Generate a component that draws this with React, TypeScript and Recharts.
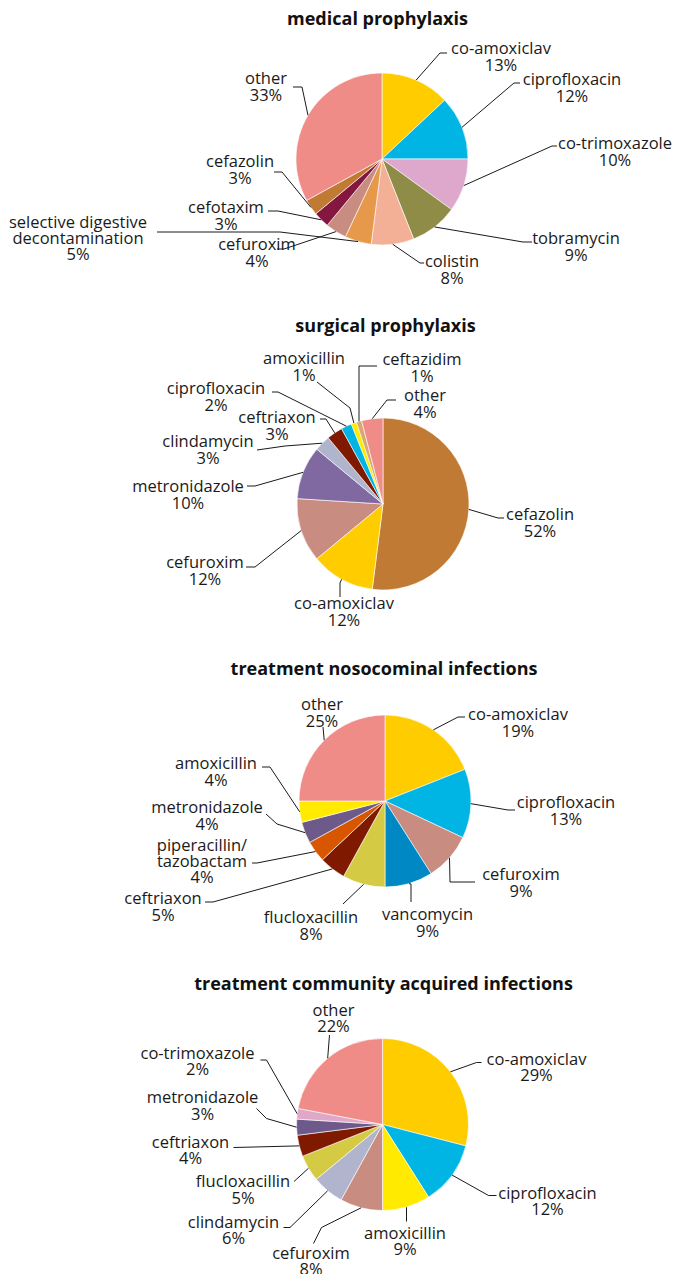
import React from "react";
import { PieChart, Pie, Cell } from "recharts";

// ---------- data ----------
const medNames = ["co-amoxiclav", "ciprofloxacin", "co-trimoxazole", "tobramycin", "colistin", "selective digestive\ndecontamination", "cefuroxim", "cefotaxim", "cefazolin", "other"];
const medValues = [13, 12, 10, 9, 8, 5, 4, 3, 3, 33];
const medColors = ["#FFCC00", "#00B4E4", "#DDA8CC", "#8F8C48", "#F4B096", "#E6994A", "#C98C80", "#84163F", "#C07A33", "#F08C88"];

const surNames = ["cefazolin", "co-amoxiclav", "cefuroxim", "metronidazole", "clindamycin", "ceftriaxon", "ciprofloxacin", "amoxicillin", "ceftazidim", "other"];
const surValues = [52, 12, 12, 10, 3, 3, 2, 1, 1, 4];
const surColors = ["#C07A33", "#FFCC00", "#C98C80", "#8068A0", "#B0B4CC", "#7F1A00", "#00B4E4", "#FFEA00", "#D9A86C", "#F08C88"];

const nosNames = ["co-amoxiclav", "ciprofloxacin", "cefuroxim", "vancomycin", "flucloxacillin", "ceftriaxon", "piperacillin/\ntazobactam", "metronidazole", "amoxicillin", "other"];
const nosValues = [19, 13, 9, 9, 8, 5, 4, 4, 4, 25];
const nosColors = ["#FFCC00", "#00B4E4", "#C98C80", "#0088C4", "#D4CA44", "#7F1A00", "#D95600", "#6E5A8A", "#FFEA00", "#F08C88"];

const comNames = ["co-amoxiclav", "ciprofloxacin", "amoxicillin", "cefuroxim", "clindamycin", "flucloxacillin", "ceftriaxon", "metronidazole", "co-trimoxazole", "other"];
const comValues = [29, 12, 9, 8, 6, 5, 4, 3, 2, 22];
const comColors = ["#FFCC00", "#00B4E4", "#FFEA00", "#C98C80", "#B0B4CC", "#D4CA44", "#7F1A00", "#6E5A8A", "#E0A8C8", "#F08C88"];

const titles = ["medical prophylaxis", "surgical prophylaxis", "treatment nosocominal infections", "treatment community acquired infections"];

// ---------- label layout (offsets from pie centre) ----------
type LL = { t: [number, number]; e: [number, number]; s: [number, number] };
const medLayout: LL[] = [
  { t: [119, -112], e: [58, -106], s: [65, -106] },
  { t: [190, -81], e: [132, -76], s: [138, -76] },
  { t: [233, -17], e: [170, -13], s: [175, -13] },
  { t: [194, 78], e: [141, 83], s: [150, 83] },
  { t: [70, 101], e: [38, 104], s: [42, 104] },
  { t: [-304, 62], e: [-102, 73], s: [-225, 73] },
  { t: [-125, 84], e: [-98, 90], s: [-105, 90] },
  { t: [-156, 47], e: [-104, 52], s: [-114, 52] },
  { t: [-142, 1], e: [-100, 13], s: [-108, 13] },
  { t: [-116, -82], e: [-80, -72], s: [-89, -72] },
];
const surLayout: LL[] = [
  { t: [157, 9], e: [115, 14], s: [121, 14] },
  { t: [-39, 98], e: [-43, 79], s: [-43, 93] },
  { t: [-178, 57], e: [-128, 63], s: [-137, 63] },
  { t: [-195, -19], e: [-128, -18], s: [-136, -18] },
  { t: [-175, -64], e: [-98, -58], s: [-126, -54] },
  { t: [-106, -88], e: [-57, -85], s: [-63, -85] },
  { t: [-167, -117], e: [-105, -112], s: [-111, -112] },
  { t: [-79, -147], e: [-33, -96], s: [-66, -122] },
  { t: [39, -146], e: [-24, -138], s: [-6, -138] },
  { t: [42, -110], e: [4, -104], s: [13, -104] },
];
const nosLayout: LL[] = [
  { t: [133, -88], e: [73, -84], s: [80, -84] },
  { t: [181, 0], e: [123, 9], s: [130, 9] },
  { t: [136, 72], e: [65, 81], s: [90, 81] },
  { t: [42.5, 112], e: [26, 83], s: [26, 101] },
  { t: [-74, 115], e: [-42, 103], s: [-42, 103] },
  { t: [-222, 96], e: [-172, 101], s: [-180, 101] },
  { t: [-183, 43], e: [-128, 62], s: [-133, 62] },
  { t: [-178, 5], e: [-108, 23], s: [-119, 13] },
  { t: [-169, -39], e: [-115, -34], s: [-123, -34] },
  { t: [-63, -98], e: [-62, -74], s: [-62, -74] },
];
const comLayout: LL[] = [
  { t: [154, -67], e: [94, -62], s: [99, -62] },
  { t: [165, 67], e: [106, 71], s: [114, 71] },
  { t: [22.5, 107], e: [24, 83], s: [24, 97] },
  { t: [-71.5, 127], e: [-61, 103], s: [-69, 119] },
  { t: [-149, 96], e: [-92.5, 103], s: [-99, 103] },
  { t: [-139.5, 55.5], e: [-88.5, 57], s: [-88.5, 57] },
  { t: [-192, 16], e: [-149, 23], s: [-149, 23] },
  { t: [-180, -28.5], e: [-116, -6], s: [-126, -16] },
  { t: [-185, -73], e: [-116, -64.5], s: [-122, -64.5] },
  { t: [-49, -116], e: [-53, -89.5], s: [-53, -89.5] },
];

const FONT = "'Open Sans', 'Noto Sans', sans-serif";
const LINE = 16.5;
const RADIUS = 86;

const makeLabel = (layout: LL[]) => (props: any) => {
  const { cx, cy, midAngle, outerRadius, index } = props;
  const name = props.payload?.name ?? props.name;
  const value = props.payload?.value ?? props.value;
  const L = layout[index];
  const rad = Math.PI / 180;
  const x0 = cx + outerRadius * Math.cos(-midAngle * rad);
  const y0 = cy + outerRadius * Math.sin(-midAngle * rad);
  const pts = [
    [x0, y0],
    [cx + L.e[0], cy + L.e[1]],
    [cx + L.s[0], cy + L.s[1]],
  ];
  const lines = [...String(name).split("\n"), `${value}%`];
  const step = lines.length > 2 ? 16 : LINE;
  const tx = cx + L.t[0];
  return (
    <g key={`lbl-${index}`}>
      <polyline points={pts.map((p) => p.join(",")).join(" ")} fill="none" stroke="#1a1a1a" strokeWidth={1} />
      <text
        x={tx}
        y={cy + L.t[1]}
        textAnchor="middle"
        dominantBaseline="central"
        fontFamily={FONT}
        fontSize={16.5}
        fill="#1a1a1a"
      >
        {lines.map((ln, i) => (
          <tspan key={i} x={tx} dy={i === 0 ? 0 : step}>
            {ln}
          </tspan>
        ))}
      </text>
    </g>
  );
};

const build = (names: string[], values: number[]) => names.map((n, i) => ({ name: n, value: values[i] }));

const panels = [
  { data: build(medNames, medValues), colors: medColors, layout: medLayout, cx: 382, cy: 159, tx: 377.5, ty: 18 },
  { data: build(surNames, surValues), colors: surColors, layout: surLayout, cx: 383, cy: 504, tx: 385.5, ty: 325 },
  { data: build(nosNames, nosValues), colors: nosColors, layout: nosLayout, cx: 385, cy: 801, tx: 384, ty: 668 },
  { data: build(comNames, comValues), colors: comColors, layout: comLayout, cx: 382.5, cy: 1124.5, tx: 383.5, ty: 983 },
];

export default function App() {
  return (
    <div style={{ position: "relative", width: 676, height: 1274, background: "#fff" }}>
      <style>{`body{margin:0;background:#fff}`}</style>
      <PieChart width={676} height={1274} margin={{ top: 0, right: 0, bottom: 0, left: 0 }}>
        {panels.map((p, k) => (
          <Pie
            key={k}
            data={p.data}
            dataKey="value"
            nameKey="name"
            cx={p.cx}
            cy={p.cy}
            outerRadius={RADIUS}
            startAngle={90}
            endAngle={-270}
            stroke="#ffffff"
            strokeWidth={0.6}
            isAnimationActive={false}
            labelLine={false}
            label={makeLabel(p.layout)}
          >
            {p.data.map((d, i) => (
              <Cell key={i} fill={p.colors[i]} />
            ))}
          </Pie>
        ))}
      </PieChart>
      {panels.map((p, k) => (
        <div
          key={k}
          style={{
            position: "absolute",
            left: p.tx,
            top: p.ty,
            transform: "translate(-50%, -50%)",
            whiteSpace: "nowrap",
            fontFamily: FONT,
            fontWeight: 700,
            fontSize: 18,
            color: "#111",
            lineHeight: "22px",
          }}
        >
          {titles[k]}
        </div>
      ))}
    </div>
  );
}
